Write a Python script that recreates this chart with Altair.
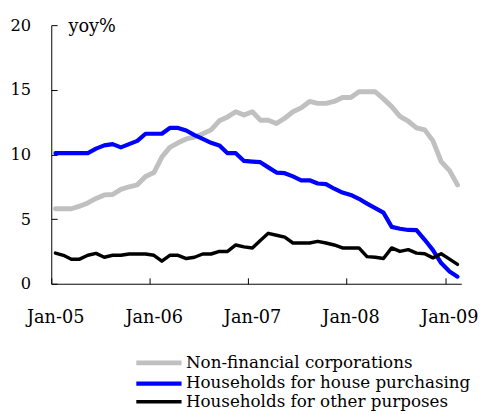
import altair as alt
import pandas as pd

months = pd.date_range("2005-01-01", periods=50, freq="MS").strftime("%Y-%m-%dT00:00:00").tolist()

series_names = [
    "Non-financial corporations",
    "Households for house purchasing",
    "Households for other purposes",
]

nfc = [5.8, 5.8, 5.8, 6.0, 6.25, 6.6, 6.87, 6.9, 7.3, 7.5,
       7.65, 8.3, 8.6, 9.8, 10.55, 10.9, 11.2, 11.35, 11.6, 11.9,
       12.6, 12.9, 13.3, 13.05, 13.3, 12.65, 12.65, 12.4, 12.8, 13.3,
       13.6, 14.1, 13.95, 13.95, 14.1, 14.4, 14.4, 14.85, 14.85, 14.85,
       14.3, 13.7, 12.95, 12.57, 12.06, 11.9, 11.05, 9.45, 8.75, 7.65]

house = [10.1, 10.1, 10.1, 10.1, 10.1, 10.45, 10.7, 10.8, 10.55, 10.8,
         11.05, 11.6, 11.6, 11.6, 12.05, 12.05, 11.85, 11.5, 11.2, 10.9,
         10.7, 10.1, 10.1, 9.5, 9.45, 9.4, 9.0, 8.6, 8.55, 8.3,
         8.0, 8.0, 7.75, 7.7, 7.35, 7.05, 6.87, 6.57, 6.2, 5.85,
         5.5, 4.4, 4.25, 4.16, 4.15, 3.4, 2.6, 1.6, 0.95, 0.55]

other = [2.37, 2.2, 1.9, 1.9, 2.2, 2.35, 2.05, 2.2, 2.2, 2.3,
         2.3, 2.3, 2.2, 1.75, 2.2, 2.2, 1.95, 2.05, 2.3, 2.3,
         2.5, 2.5, 3.0, 2.85, 2.77, 3.35, 3.9, 3.75, 3.6, 3.15,
         3.15, 3.15, 3.28, 3.15, 3.0, 2.77, 2.77, 2.77, 2.1, 2.05,
         1.95, 2.77, 2.5, 2.64, 2.37, 2.32, 2.0, 2.32, 1.9, 1.5]

colors = ["#C0C0C0", "#0000FF", "#000000"]
widths = [5, 3.5, 1.2]
tick_years = [2005, 2006, 2007, 2008, 2009]

df = pd.DataFrame({
    "date": months * 3,
    "value": nfc + house + other,
    "series": [s for s in series_names for _ in range(len(months))],
    "ord": [i for i in range(3) for _ in range(len(months))],
})

FONT = "DejaVu Serif"
W, H = 417, 263

x_domain = [alt.DateTime(year=2005, month=1, date=1), alt.DateTime(year=2009, month=3, date=1)]
x_values = [alt.DateTime(year=y, month=1, date=1) for y in tick_years]

xscale = alt.Scale(domain=x_domain)
yscale = alt.Scale(domain=[0, 20])

legend_kw = dict(title=None, orient="none", legendX=99, legendY=333,
                 symbolType="M-2.875,0H2.875", symbolSize=256,
                 labelFont=FONT, labelFontSize=17, labelColor="#000",
                 labelOffset=17, labelLimit=500, rowPadding=-0.5)

lines = alt.Chart(df).mark_line(strokeCap="round", strokeJoin="round").encode(
    x=alt.X("yearmonth(date):T", bandPosition=0.5, scale=xscale,
            axis=alt.Axis(values=x_values, format="%b-%y", title=None, grid=False,
                          tickSize=0, labelPadding=25, labelOffset=4,
                          labelFont=FONT, labelFontSize=18, labelColor="#000",
                          domainColor="#000", labelFlush=False)),
    y=alt.Y("value:Q", scale=yscale,
            axis=alt.Axis(values=[0, 5, 10, 15, 20], title="yoy%", titleAngle=0,
                          titleAlign="left", titleBaseline="alphabetic",
                          titleX=17, titleY=6, titleFont=FONT, titleFontSize=18,
                          titleFontWeight="normal", titleColor="#000",
                          grid=False, tickSize=0, labelPadding=21,
                          labelFont=FONT, labelFontSize=16.5, labelColor="#000",
                          domainColor="#000")),
    color=alt.Color("series:N", scale=alt.Scale(domain=series_names, range=colors),
                    legend=alt.Legend(**legend_kw)),
    strokeWidth=alt.StrokeWidth("series:N", scale=alt.Scale(domain=series_names, range=widths),
                                legend=alt.Legend(**legend_kw)),
    order=alt.Order("ord:Q"),
)

ticks = alt.Chart(df).mark_line(opacity=0).encode(
    x=alt.X("yearmonth(date):T", bandPosition=0.5, scale=xscale,
            axis=alt.Axis(orient="top", offset=-H, values=x_values, labels=False, title=None,
                          grid=False, domain=False, tickSize=6, tickColor="#000")),
    y=alt.Y("value:Q", scale=yscale,
            axis=alt.Axis(orient="right", offset=-W, values=[0, 5, 10, 15, 20], labels=False,
                          title=None, grid=False, domain=False, tickSize=6, tickColor="#000")),
)

chart = alt.layer(lines, ticks).resolve_axis(x="independent", y="independent").properties(
    width=W, height=H,
    autosize=alt.AutoSizeParams(type="none"),
    padding={"left": 44, "top": 14, "right": 17, "bottom": 127},
).configure_view(stroke=None)

chart.save("out.html", embed_options={"renderer": "svg", "actions": False})
